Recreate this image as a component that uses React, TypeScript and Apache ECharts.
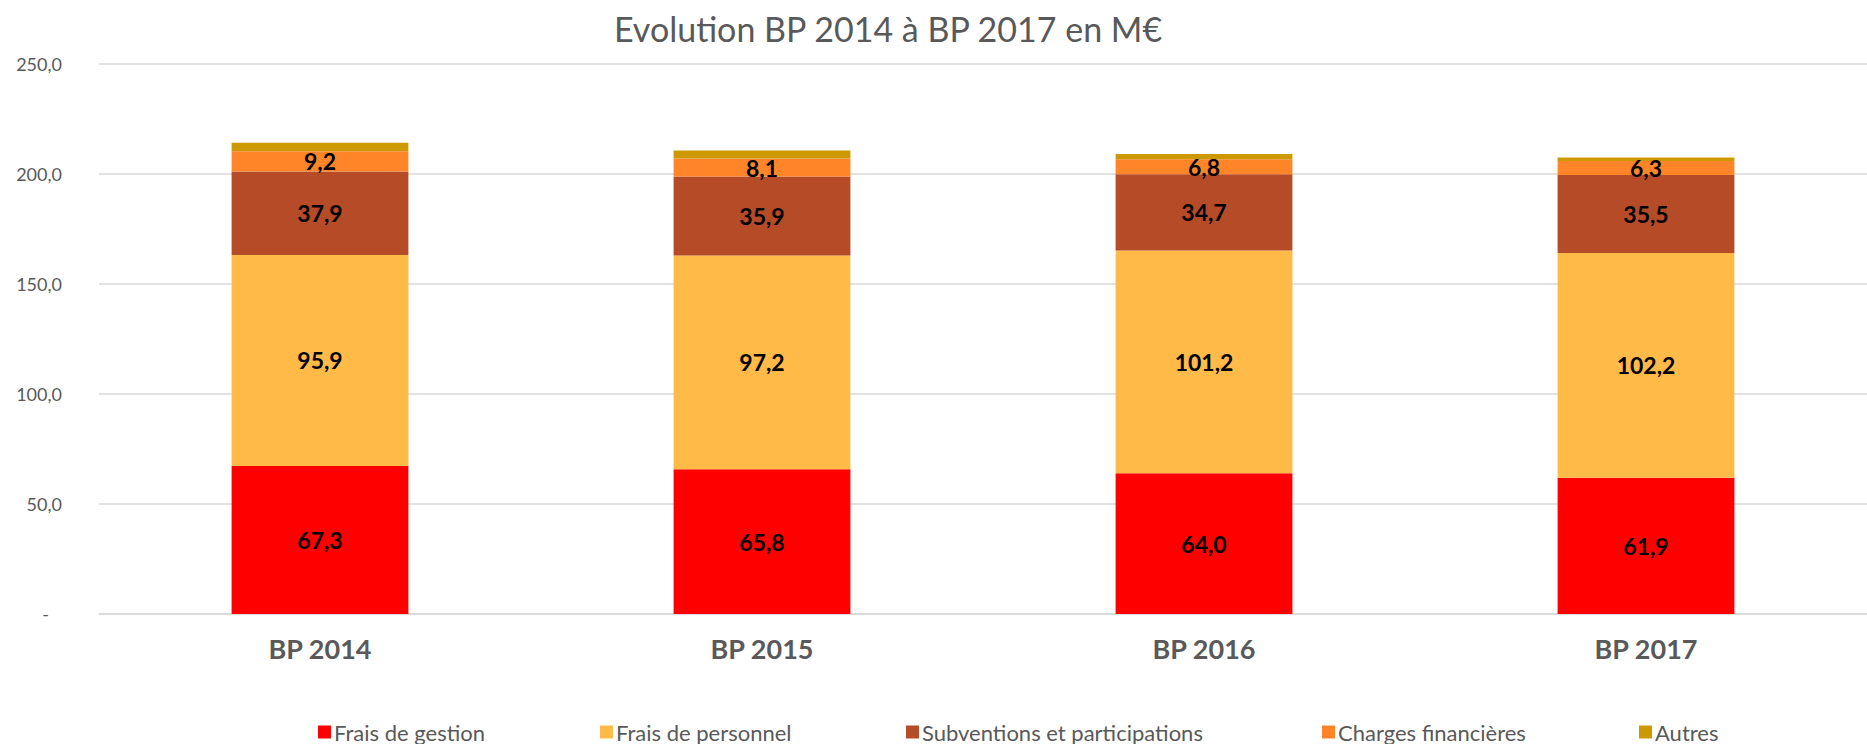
import React, { useEffect, useRef } from "react";
import * as echarts from "echarts";

const categories = ["BP 2014", "BP 2015", "BP 2016", "BP 2017"];
const fraisGestion = [67.3, 65.8, 64.0, 61.9];
const fraisPersonnel = [95.9, 97.2, 101.2, 102.2];
const subventions = [37.9, 35.9, 34.7, 35.5];
const chargesFinancieres = [9.2, 8.1, 6.8, 6.3];
const autres = [3.9, 3.7, 2.4, 1.6];
const seriesNames = [
  "Frais de gestion",
  "Frais de personnel",
  "Subventions et participations",
  "Charges financières",
  "Autres",
];
const colors = ["#FF0000", "#FFBA48", "#B54B27", "#FF8528", "#CC9900"];
const showLabels = [true, true, true, true, false];
const titleText = "Evolution BP 2014 à BP 2017 en M€";

const FONT = "Lato, 'Open Sans', sans-serif";
const fmt = (v: number) => v.toFixed(1).replace(".", ",");
const legendLefts = [313, 595, 901, 1317, 1634];

export default function App() {
  const ref = useRef<HTMLDivElement>(null);
  useEffect(() => {
    if (!ref.current) return;
    const chart = echarts.init(ref.current, undefined, { renderer: "svg" });
    const dataSets = [fraisGestion, fraisPersonnel, subventions, chargesFinancieres, autres];
    chart.setOption({
      animation: false,
      backgroundColor: "#ffffff",
      textStyle: { fontFamily: FONT },
      title: {
        text: titleText,
        left: 609,
        top: 6,
        textStyle: { fontFamily: FONT, fontSize: 34, fontWeight: "normal", color: "#595959" },
      },
      legend: seriesNames.map((name, i) => ({
        left: legendLefts[i],
        top: 716,
        itemWidth: 13,
        itemHeight: 13,
        itemGap: 0,
        icon: "rect",
        textStyle: { fontFamily: FONT, fontSize: 22, color: "#595959", padding: [0, 0, 0, -2] },
        data: [name],
      })),
      grid: { left: 99, right: -11, top: 64, bottom: 130, containLabel: false },
      xAxis: {
        type: "category",
        data: categories,
        axisLine: { show: true, lineStyle: { color: "#D9D9D9", width: 1.5 } },
        axisTick: { show: false },
        axisLabel: {
          fontFamily: FONT,
          fontSize: 27,
          fontWeight: "bold",
          color: "#595959",
          margin: 21,
        },
      },
      yAxis: {
        type: "value",
        min: 0,
        max: 250,
        interval: 50,
        axisLine: { show: false },
        axisTick: { show: false },
        splitLine: { lineStyle: { color: "#D9D9D9", width: 1.5 } },
        axisLabel: {
          margin: 37,
          fontFamily: FONT,
          fontSize: 18,
          color: "#595959",
          formatter: (v: number) => (v === 0 ? "{d|-}" : fmt(v)),
          rich: { d: { fontFamily: FONT, fontSize: 18, color: "#595959", padding: [0, 13, 0, 0] } },
        },
      },
      series: seriesNames.map((name, i) => ({
        name,
        type: "bar",
        stack: "total",
        barWidth: "40%",
        itemStyle: { color: colors[i] },
        label: {
          show: showLabels[i],
          position: "inside",
          formatter: (p: any) => fmt(p.value),
          fontFamily: FONT,
          fontSize: 23,
          fontWeight: "bold",
          color: "#000000",
        },
        data: dataSets[i],
      })),
    });
    return () => chart.dispose();
  }, []);
  return (
    <div
      ref={ref}
      style={{ position: "fixed", left: 0, top: 0, width: 1867, height: 744 }}
    />
  );
}
